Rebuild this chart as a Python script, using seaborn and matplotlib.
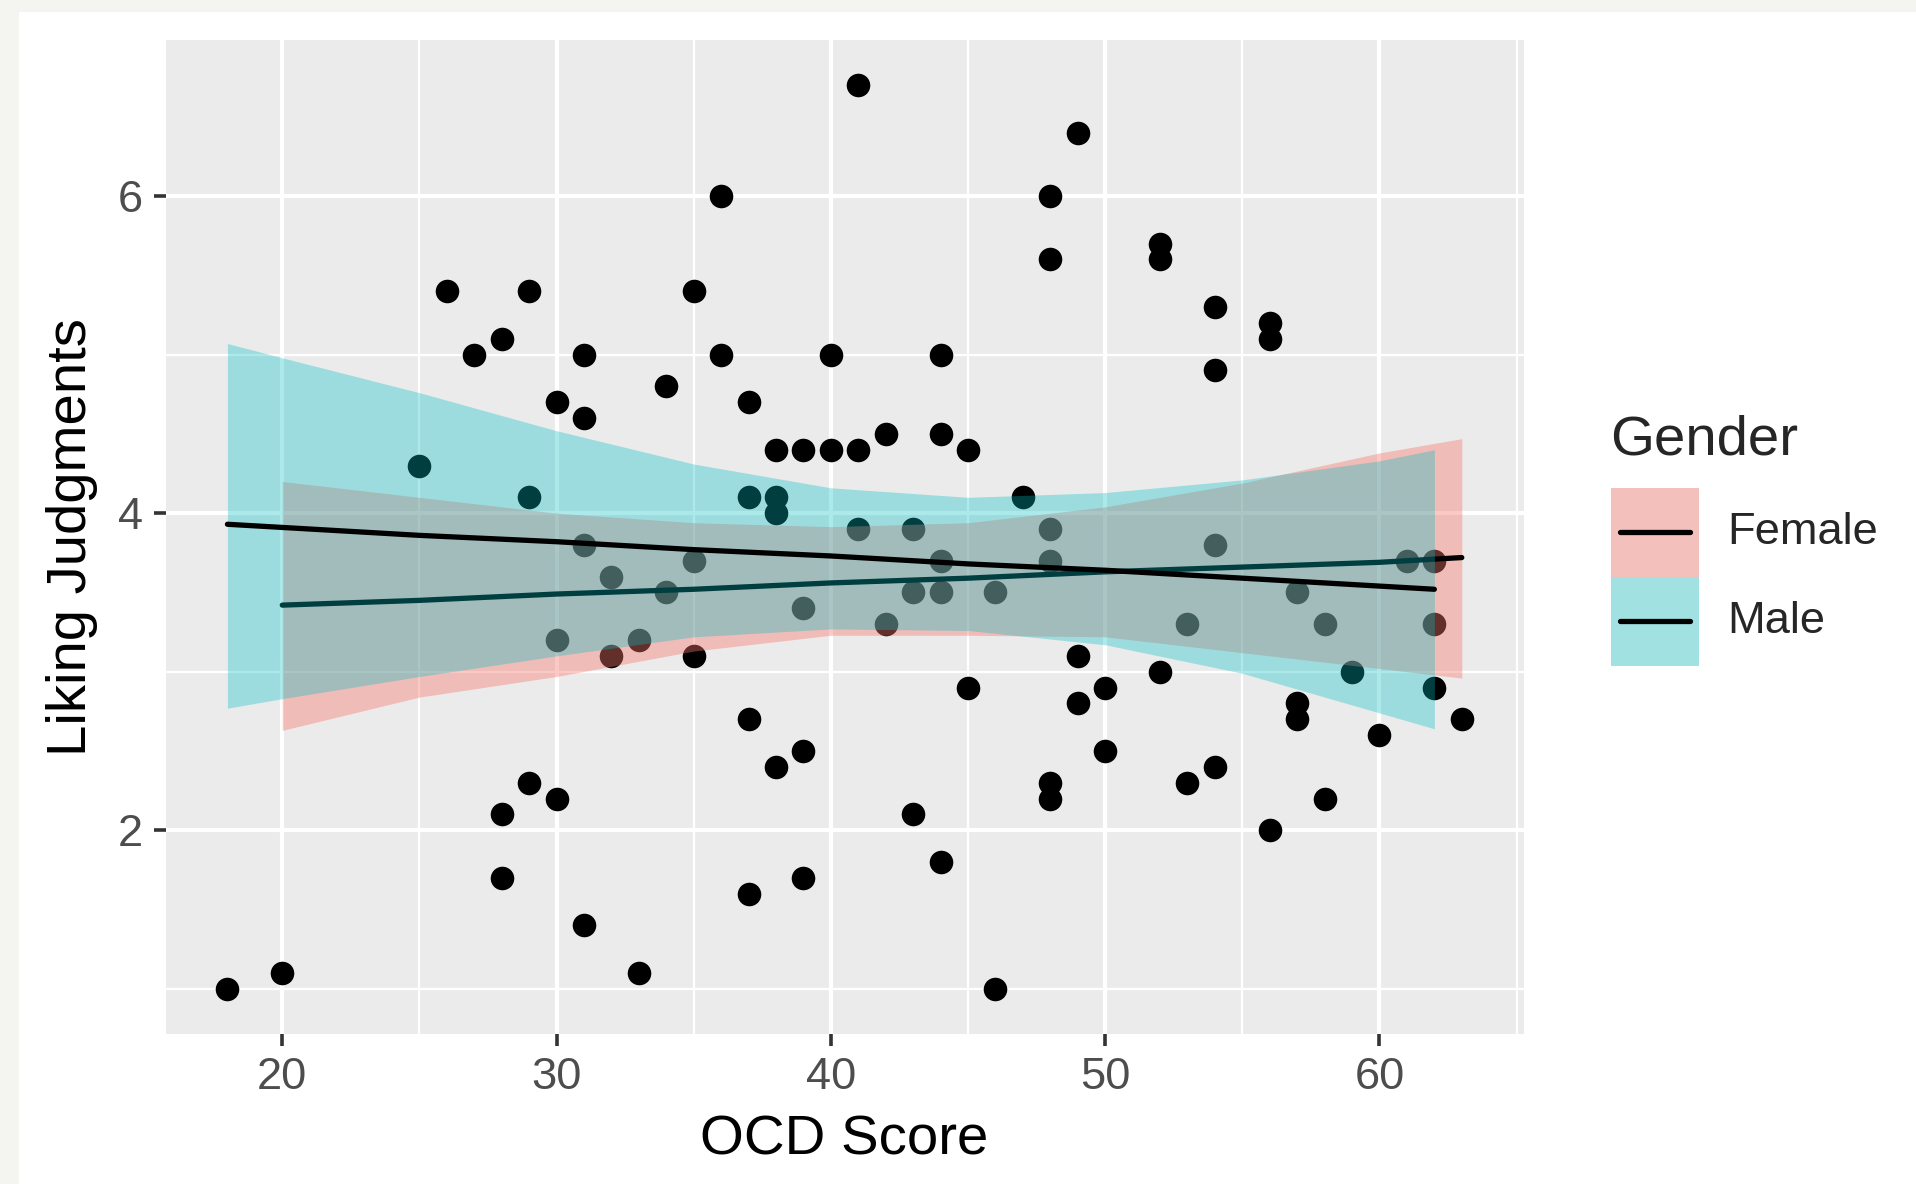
import numpy as np
import pandas as pd
import matplotlib
matplotlib.use("Agg")
import matplotlib.pyplot as plt
from matplotlib.patches import Rectangle
from matplotlib.lines import Line2D
import seaborn as sns

# scatter data (OCD score vs liking judgment)
ocd_score = [18, 20, 25, 26, 27, 28, 28, 28, 29, 29, 29, 30, 30, 30, 31, 31, 31, 31,
             32, 32, 33, 33, 34, 34, 35, 35, 35, 36, 36, 37, 37, 37, 37, 38, 38, 38, 38,
             39, 39, 39, 39, 40, 40, 41, 41, 41, 42, 42, 43, 43, 43, 44, 44, 44, 44, 44,
             45, 45, 46, 46, 47, 48, 48, 48, 48, 48, 48, 49, 49, 49, 50, 50, 52, 52, 52,
             53, 53, 54, 54, 54, 54, 56, 56, 56, 57, 57, 57, 58, 58, 59, 60, 61, 62, 62,
             62, 63]
liking = [1.0, 1.1, 4.3, 5.4, 5.0, 5.1, 2.1, 1.7, 5.4, 4.1, 2.3, 4.7, 3.2, 2.2, 5.0, 4.6, 3.8, 1.4,
          3.6, 3.1, 3.2, 1.1, 4.8, 3.5, 5.4, 3.7, 3.1, 6.0, 5.0, 4.7, 4.1, 2.7, 1.6, 4.4, 4.1, 4.0,
          2.4, 4.4, 3.4, 2.5, 1.7, 5.0, 4.4, 6.7, 4.4, 3.9, 4.5, 3.3, 3.9, 3.5, 2.1, 5.0, 4.5, 3.7,
          3.5, 1.8, 4.4, 2.9, 3.5, 1.0, 4.1, 6.0, 5.6, 3.9, 3.7, 2.3, 2.2, 6.4, 3.1, 2.8, 2.9, 2.5,
          5.7, 5.6, 3.0, 3.3, 2.3, 5.3, 4.9, 3.8, 2.4, 5.2, 5.1, 2.0, 3.5, 2.8, 2.7, 3.3, 2.2, 3.0,
          2.6, 3.7, 3.7, 3.3, 2.9, 2.7]

# fitted lines and 95% bands
female_x = [20, 25, 30, 35, 40, 45, 50, 55, 60, 63]
female_fit = [3.42, 3.45, 3.49, 3.52, 3.56, 3.59, 3.63, 3.66, 3.69, 3.72]
female_lo = [2.63, 2.84, 2.97, 3.13, 3.23, 3.23, 3.22, 3.12, 3.02, 2.96]
female_hi = [4.20, 4.10, 4.00, 3.94, 3.915, 3.94, 4.04, 4.19, 4.38, 4.47]

male_x = [18, 20, 25, 30, 35, 40, 45, 50, 55, 60, 62]
male_fit = [3.93, 3.91, 3.86, 3.82, 3.77, 3.73, 3.68, 3.64, 3.59, 3.54, 3.52]
male_lo = [2.77, 2.83, 2.97, 3.10, 3.22, 3.27, 3.26, 3.17, 2.99, 2.74, 2.64]
male_hi = [5.07, 4.98, 4.76, 4.52, 4.31, 4.16, 4.10, 4.13, 4.21, 4.33, 4.40]

genders = ["Female", "Male"]
gender_colors = ["#F8766D", "#00BFC4"]
ribbon_alpha = [0.4, 0.33]

sns.set_style("dark", {"axes.facecolor": "#EBEBEB", "grid.color": "white"})
plt.rcParams['font.family'] = ['Liberation Sans', 'DejaVu Sans']

W, H = 1916, 1184
fig = plt.figure(figsize=(W / 200, H / 200), dpi=200)
fig.patch.set_facecolor("white")
# light frame of the screenshot
fig.add_artist(Rectangle((0, 0), 19 / W, 1, transform=fig.transFigure, color="#F4F5F1", lw=0))
fig.add_artist(Rectangle((0, 1 - 12 / H), 1, 12 / H, transform=fig.transFigure, color="#F4F5F1", lw=0))

ax = fig.add_axes([165.7 / W, 1 - 1034 / H, (1523.5 - 165.7) / W, (1034 - 39.9) / H])
ax.set_facecolor("#EBEBEB")

df = pd.DataFrame({"ocd": ocd_score, "liking": liking})
sns.scatterplot(data=df, x="ocd", y="liking", color="black", s=72, linewidth=0, ax=ax, zorder=2)

# female smooth first, then male on top (as ggplot draws by group)
ax.fill_between(female_x, female_lo, female_hi, color=gender_colors[0], alpha=ribbon_alpha[0], lw=0, zorder=3)
sns.lineplot(x=female_x, y=female_fit, color="black", lw=1.9, ax=ax, zorder=4)
ax.fill_between(male_x, male_lo, male_hi, color=gender_colors[1], alpha=ribbon_alpha[1], lw=0, zorder=5)
sns.lineplot(x=male_x, y=male_fit, color="black", lw=1.9, ax=ax, zorder=6)

ax.set_xlim(15.75, 65.25)
ax.set_ylim(0.715, 6.985)
ax.set_xticks([20, 30, 40, 50, 60])
ax.set_xticks([25, 35, 45, 55, 65], minor=True)
ax.set_yticks([2, 4, 6])
ax.set_yticks([1, 3, 5], minor=True)
ax.set_axisbelow(True)
ax.grid(which="major", color="white", lw=1.5)
ax.grid(which="minor", color="white", lw=0.8)
for s in ax.spines.values():
    s.set_visible(False)
ax.tick_params(which="major", length=4.3, width=1.3, color="#333333",
               labelsize=16.3, labelcolor="#4D4D4D", pad=4, left=True, bottom=True)
ax.tick_params(which="minor", length=0)
ax.set_xlabel("OCD Score", fontsize=20.3, color="black", labelpad=6)
ax.set_ylabel("Liking Judgments", fontsize=20.3, color="black", labelpad=7)

# legend drawn by hand, ggplot style
fig.text(1610.5 / W, 1 - 454.6 / H, "Gender", fontsize=20.3, ha="left", va="baseline")
key_top = 487.6
key_h, key_w = 89, 88
for i, (g, c) in enumerate(zip(genders, gender_colors)):
    top = key_top + i * key_h
    y0 = 1 - (top + key_h) / H
    fig.add_artist(Rectangle((1610.5 / W, y0), key_w / W, key_h / H,
                             transform=fig.transFigure, color="#F2F2F2", lw=0))
    fig.add_artist(Rectangle((1610.5 / W, y0), key_w / W, key_h / H,
                             transform=fig.transFigure, color=c, alpha=ribbon_alpha[i], lw=0))
    yc = 1 - (top + key_h / 2) / H
    fig.add_artist(Line2D([1620 / W, 1690 / W], [yc, yc], transform=fig.transFigure,
                          color="black", lw=1.9))
    fig.text(1727 / W, yc, g, fontsize=16.3, ha="left", va="center")

fig.savefig("out.png", dpi=200)
